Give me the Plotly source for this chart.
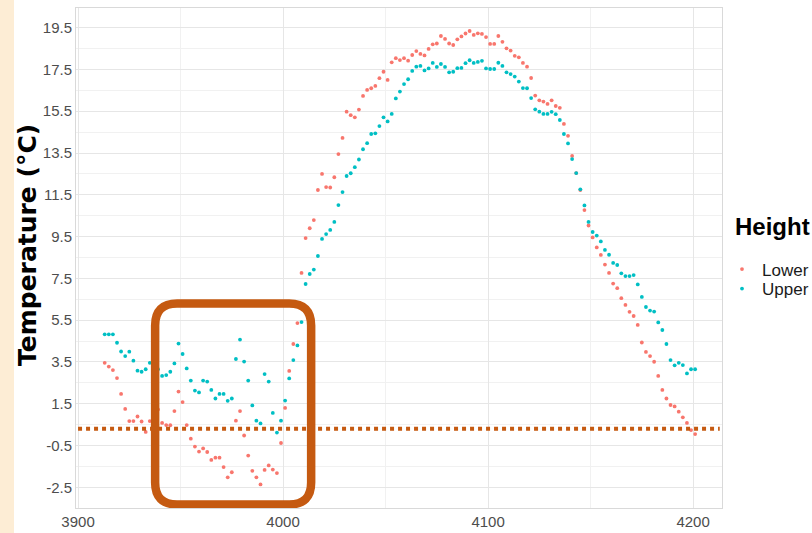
import plotly.graph_objects as go

# ---- data ----
x_start = 3913
x_step = 2
lower = [3.46, 3.28, 3.11, 2.73, 1.97, 1.25, 0.67, 0.67, 0.89, 0.65, 0.15, 0.67, 1.10, 1.23, 0.58, 0.48, 0.47, 1.15, 2.08, 1.58,
         0.48, -0.17, -0.55, -0.79, -0.64, -0.81, -1.19, -1.08, -1.08, -1.53, -2.02, -1.78, 0.69, 1.15, -0.02, -0.98, -1.71, -2.02, -2.36, -1.67,
         -1.45, -1.65, -1.82, -0.38, 1.30, 3.07, 4.36, 5.36, 7.76, 9.43, 9.90,
         10.29, 11.73, 12.50, 11.87, 11.85, 12.34, 13.45, 14.22, 15.48, 15.31, 15.21, 15.58, 16.23, 16.52, 16.60, 16.71, 17.08, 17.39, 17.00,
         17.84, 18.04, 17.95, 18.04, 17.92,
         18.19, 18.38, 18.24, 18.17, 18.48, 18.70, 18.74, 19.10, 18.96, 18.74, 18.67, 18.94, 19.08, 19.22, 19.34, 19.15, 19.23, 19.20, 19.05,
         18.72, 18.72, 19.10, 18.82,
         18.51, 18.40, 18.15, 18.08, 17.81, 17.63, 17.09, 16.25, 16.02, 15.96, 15.85, 16.02, 15.75, 15.66, 14.89, 14.32, 13.36, 12.54, 11.73,
         10.77, 10.03, 9.46,
         8.98, 8.62, 8.16, 7.76, 7.25, 7.03, 6.55, 6.23, 5.90, 5.70, 5.27, 4.43, 3.98, 3.78, 3.51, 2.83, 2.16, 1.75, 1.44, 1.37, 1.12, 0.85,
         0.58, 0.24, 0.05]
upper = [4.82, 4.82, 4.82, 4.42, 4.00, 3.78, 3.99, 3.56, 3.08, 3.03, 3.15, 3.46, 3.30, 3.15, 2.83, 2.87, 3.03, 3.43, 4.38, 3.88,
         3.19, 2.61, 2.13, 2.04, 2.61, 2.56, 2.16, 1.75, 1.97, 1.97, 1.64, 1.75, 3.64, 4.57, 3.52, 2.61, 1.42, 0.69, 0.56, 2.92,
         2.56, 1.06, 0.12, 0.69, 1.65, 2.71, 3.59, 4.29, 5.41, 7.23, 7.71,
         7.92, 8.57, 9.39, 9.62, 9.82, 10.20, 11.01, 11.63, 12.40, 12.53, 12.82, 13.19, 13.68, 13.97, 14.41, 14.44, 14.79, 15.21, 15.01,
         15.37, 16.11, 16.44, 16.80, 17.03,
         17.43, 17.63, 17.67, 17.45, 17.55, 17.81, 17.62, 17.76, 17.62, 17.36, 17.39, 17.56, 17.57, 17.80, 17.94, 17.81, 17.86, 17.91, 17.55,
         17.52, 17.52, 17.82, 17.67,
         17.36, 17.28, 17.16, 16.92, 16.61, 16.60, 16.13, 15.59, 15.48, 15.37, 15.37, 15.47, 15.36, 15.08, 14.41, 13.96, 13.21, 12.54, 11.76,
         10.99, 10.20, 9.72,
         9.55, 9.27, 8.86, 8.63, 8.24, 8.14, 7.74, 7.61, 7.61, 7.66, 7.21, 6.61, 6.13, 5.96, 5.91, 5.39, 5.03, 4.36, 3.59, 3.34, 3.46, 3.35,
         2.95, 3.15, 3.15]
times = list(range(x_start, x_start + x_step * len(lower), x_step))

series_names = ["Lower", "Upper"]
series_colors = ["#F8766D", "#00BFC4"]

y_tick_vals = [-2.5, -0.5, 1.5, 3.5, 5.5, 7.5, 9.5, 11.5, 13.5, 15.5, 17.5, 19.5]
x_tick_vals = [3900, 4000, 4100, 4200]

# annotation overlay (threshold line and highlight box), in data units
threshold = 0.3
line_x = (3900, 4213)
box_x = (3937.6, 4013.7)
box_y = (-3.32, 6.3)
box_rx, box_ry = 10.7, 1.05
accent = "#C55A11"

# ---- figure ----
W, H = 812, 533
ML, MR, MT, MB = 76, 90, 8, 25
PW, PH = W - ML - MR, H - MT - MB

def px_x(p):
    return (p - ML) / PW

def px_y(p):
    return (H - MB - p) / PH

fig = go.Figure()
for name, ys, col, lg in zip(series_names, [lower, upper], series_colors, ["legend", "legend2"]):
    fig.add_trace(go.Scatter(
        x=times, y=ys, mode="markers", name=name, legend=lg,
        marker=dict(color=col, size=3.8, line=dict(width=0)),
    ))

x0, x1 = box_x
y0, y1 = box_y
rx, ry = box_rx, box_ry
path = (f"M {x0+rx},{y1} L {x1-rx},{y1} Q {x1},{y1} {x1},{y1-ry} "
        f"L {x1},{y0+ry} Q {x1},{y0} {x1-rx},{y0} "
        f"L {x0+rx},{y0} Q {x0},{y0} {x0},{y0+ry} "
        f"L {x0},{y1-ry} Q {x0},{y1} {x0+rx},{y1} Z")

shapes = [
    dict(type="rect", xref="paper", yref="paper", x0=px_x(0), x1=px_x(14), y0=px_y(H), y1=px_y(0),
         fillcolor="#FDEDD5", line=dict(width=0), layer="below"),
    dict(type="line", xref="x", yref="y", x0=line_x[0], x1=line_x[1], y0=threshold, y1=threshold,
         line=dict(color=accent, width=4, dash="4px,4px")),
    dict(type="path", xref="x", yref="y", path=path, line=dict(color=accent, width=8.5)),
]

tick_font = dict(family="Liberation Sans, Arial, sans-serif", size=15, color="#4D4D4D")
legend_font = dict(family="Liberation Sans, Arial, sans-serif", size=17, color="#1A1A1A")

fig.update_layout(
    width=W, height=H,
    margin=dict(l=ML, r=MR, t=MT, b=MB, autoexpand=False),
    paper_bgcolor="white", plot_bgcolor="white",
    shapes=shapes,
    showlegend=True,
    legend=dict(x=1.0, xanchor="left", y=px_y(269.5), yanchor="middle", font=legend_font,
                bgcolor="rgba(0,0,0,0)", borderwidth=0, itemwidth=30),
    legend2=dict(x=1.0, xanchor="left", y=px_y(289), yanchor="middle", font=legend_font,
                 bgcolor="rgba(0,0,0,0)", borderwidth=0, itemwidth=30),
    annotations=[
        dict(text="<b>Temperature (°C)</b>", xref="paper", yref="paper", x=px_x(27), y=px_y(245),
             xanchor="center", yanchor="middle", textangle=-90, showarrow=False,
             font=dict(family="DejaVu Sans, sans-serif", size=25, color="black")),
        dict(text="<b>Height</b>", xref="paper", yref="paper", x=px_x(733), y=px_y(227),
             xanchor="left", yanchor="middle", showarrow=False,
             font=dict(family="Liberation Sans, Arial, sans-serif", size=24, color="black")),
    ],
    xaxis=dict(range=[3899.0, 4214.1], tickvals=x_tick_vals, ticktext=[str(v) for v in x_tick_vals],
               showgrid=True, gridcolor="#E6E6E6", gridwidth=1,
               minor=dict(dtick=50, tick0=3900, showgrid=True, gridcolor="#F1F1F1", gridwidth=1),
               showline=True, mirror=True, linecolor="#D9D9D9", linewidth=1,
               zeroline=False, ticks="", tickfont=tick_font),
    yaxis=dict(range=[-3.49, 20.44], tickvals=y_tick_vals, ticktext=[f"{v:.1f}" for v in y_tick_vals],
               showgrid=True, gridcolor="#E6E6E6", gridwidth=1,
               minor=dict(dtick=1, tick0=-2.5, showgrid=True, gridcolor="#F1F1F1", gridwidth=1),
               showline=True, mirror=True, linecolor="#D9D9D9", linewidth=1,
               zeroline=False, ticks="", tickfont=tick_font),
)

fig.write_html("out.html", config={"displayModeBar": False},
               post_script="document.body.style.margin='0';document.body.style.overflow='hidden';")
